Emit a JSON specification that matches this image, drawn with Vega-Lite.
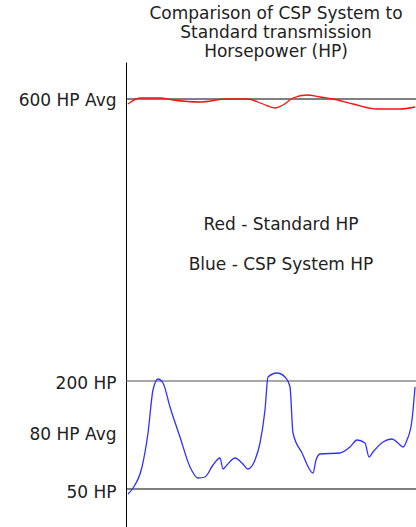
{
  "$schema": "https://vega.github.io/schema/vega-lite/v6.json",
  "width": 290,
  "height": 465,
  "autosize": {"type": "none"},
  "padding": {"left": 126, "top": 62, "right": 0, "bottom": 0},
  "background": "white",
  "view": {"stroke": null},
  "title": {
    "text": ["Comparison of CSP System to", "Standard transmission", "Horsepower (HP)"],
    "font": "DejaVu Sans",
    "fontSize": 17,
    "fontWeight": "normal",
    "color": "#222222",
    "lineHeight": 19,
    "anchor": "middle",
    "frame": "group",
    "dx": 5,
    "offset": 1
  },
  "datasets": {
    "refs": [
      {"level": "600 HP Avg", "y": 428, "kind": "a"},
      {"level": "200 HP", "y": 146, "kind": "b"},
      {"level": "50 HP", "y": 38, "kind": "a"}
    ],
    "notes": [
      {"text": "Red - Standard HP", "x": 155, "y": 302},
      {"text": "Blue - CSP System HP", "x": 155, "y": 262}
    ],
    "curves": [
      {"series": "Standard", "x": 2, "y": 423},
      {"series": "Standard", "x": 14, "y": 429},
      {"series": "Standard", "x": 34, "y": 429},
      {"series": "Standard", "x": 47, "y": 427},
      {"series": "Standard", "x": 74, "y": 425},
      {"series": "Standard", "x": 101, "y": 428},
      {"series": "Standard", "x": 121, "y": 428},
      {"series": "Standard", "x": 137, "y": 423},
      {"series": "Standard", "x": 149, "y": 419},
      {"series": "Standard", "x": 157, "y": 422},
      {"series": "Standard", "x": 167, "y": 429},
      {"series": "Standard", "x": 181, "y": 432},
      {"series": "Standard", "x": 194, "y": 430},
      {"series": "Standard", "x": 207, "y": 428},
      {"series": "Standard", "x": 227, "y": 423},
      {"series": "Standard", "x": 251, "y": 418},
      {"series": "Standard", "x": 274, "y": 418},
      {"series": "Standard", "x": 289, "y": 420},
      {"series": "CSP", "x": 2, "y": 33},
      {"series": "CSP", "x": 7, "y": 39},
      {"series": "CSP", "x": 16, "y": 60},
      {"series": "CSP", "x": 22, "y": 94},
      {"series": "CSP", "x": 27, "y": 137},
      {"series": "CSP", "x": 32, "y": 148},
      {"series": "CSP", "x": 37, "y": 144},
      {"series": "CSP", "x": 44, "y": 120},
      {"series": "CSP", "x": 54, "y": 90},
      {"series": "CSP", "x": 64, "y": 60},
      {"series": "CSP", "x": 72, "y": 49},
      {"series": "CSP", "x": 79, "y": 50},
      {"series": "CSP", "x": 87, "y": 62},
      {"series": "CSP", "x": 94, "y": 69},
      {"series": "CSP", "x": 97, "y": 58},
      {"series": "CSP", "x": 101, "y": 62},
      {"series": "CSP", "x": 109, "y": 69},
      {"series": "CSP", "x": 116, "y": 64},
      {"series": "CSP", "x": 122, "y": 58},
      {"series": "CSP", "x": 129, "y": 67},
      {"series": "CSP", "x": 134, "y": 84},
      {"series": "CSP", "x": 139, "y": 117},
      {"series": "CSP", "x": 142, "y": 150},
      {"series": "CSP", "x": 151, "y": 154},
      {"series": "CSP", "x": 159, "y": 150},
      {"series": "CSP", "x": 164, "y": 140},
      {"series": "CSP", "x": 167, "y": 94},
      {"series": "CSP", "x": 176, "y": 74},
      {"series": "CSP", "x": 187, "y": 54},
      {"series": "CSP", "x": 190, "y": 67},
      {"series": "CSP", "x": 194, "y": 73},
      {"series": "CSP", "x": 214, "y": 74},
      {"series": "CSP", "x": 224, "y": 80},
      {"series": "CSP", "x": 231, "y": 87},
      {"series": "CSP", "x": 239, "y": 84},
      {"series": "CSP", "x": 243, "y": 70},
      {"series": "CSP", "x": 247, "y": 75},
      {"series": "CSP", "x": 257, "y": 85},
      {"series": "CSP", "x": 266, "y": 88},
      {"series": "CSP", "x": 272, "y": 84},
      {"series": "CSP", "x": 277, "y": 80},
      {"series": "CSP", "x": 281, "y": 87},
      {"series": "CSP", "x": 286, "y": 107},
      {"series": "CSP", "x": 289, "y": 140}
    ]
  },
  "layer": [
    {
      "data": {"name": "refs"},
      "mark": {"type": "rule", "strokeWidth": 1},
      "encoding": {
        "y": {
          "field": "y",
          "type": "quantitative",
          "scale": {"domain": [0, 465], "nice": false, "zero": false},
          "axis": {
            "title": null,
            "values": [427, 144, 93, 35],
            "labelExpr": "datum.value == 427 ? '600 HP Avg' : datum.value == 144 ? '200 HP' : datum.value == 93 ? '80 HP Avg' : '50 HP'",
            "grid": false,
            "ticks": false,
            "domain": true,
            "domainColor": "#000000",
            "domainWidth": 1,
            "labelFont": "DejaVu Sans",
            "labelFontSize": 17,
            "labelColor": "#222222",
            "labelPadding": 10,
            "labelBaseline": "middle",
            "labelOverlap": false,
            "labelBound": false,
            "labelFlush": false
          }
        },
        "color": {
          "field": "kind",
          "type": "nominal",
          "scale": {"domain": ["a", "b"], "range": ["#000000", "#505050"]},
          "legend": null
        }
      }
    },
    {
      "data": {"name": "curves"},
      "mark": {"type": "line", "interpolate": "monotone", "strokeWidth": 1.3},
      "encoding": {
        "x": {"field": "x", "type": "quantitative", "scale": {"domain": [0, 290], "nice": false, "zero": false}, "axis": null},
        "y": {"field": "y", "type": "quantitative"},
        "stroke": {
          "field": "series",
          "type": "nominal",
          "scale": {"domain": ["Standard", "CSP"], "range": ["#ff1010", "#3030ff"]},
          "legend": null
        }
      }
    },
    {
      "data": {"name": "notes"},
      "mark": {"type": "text", "font": "DejaVu Sans", "fontSize": 17, "color": "#222222", "align": "center", "baseline": "middle"},
      "encoding": {
        "x": {"field": "x", "type": "quantitative"},
        "y": {"field": "y", "type": "quantitative"},
        "text": {"field": "text"}
      }
    }
  ],
  "resolve": {"scale": {"color": "independent"}}
}
